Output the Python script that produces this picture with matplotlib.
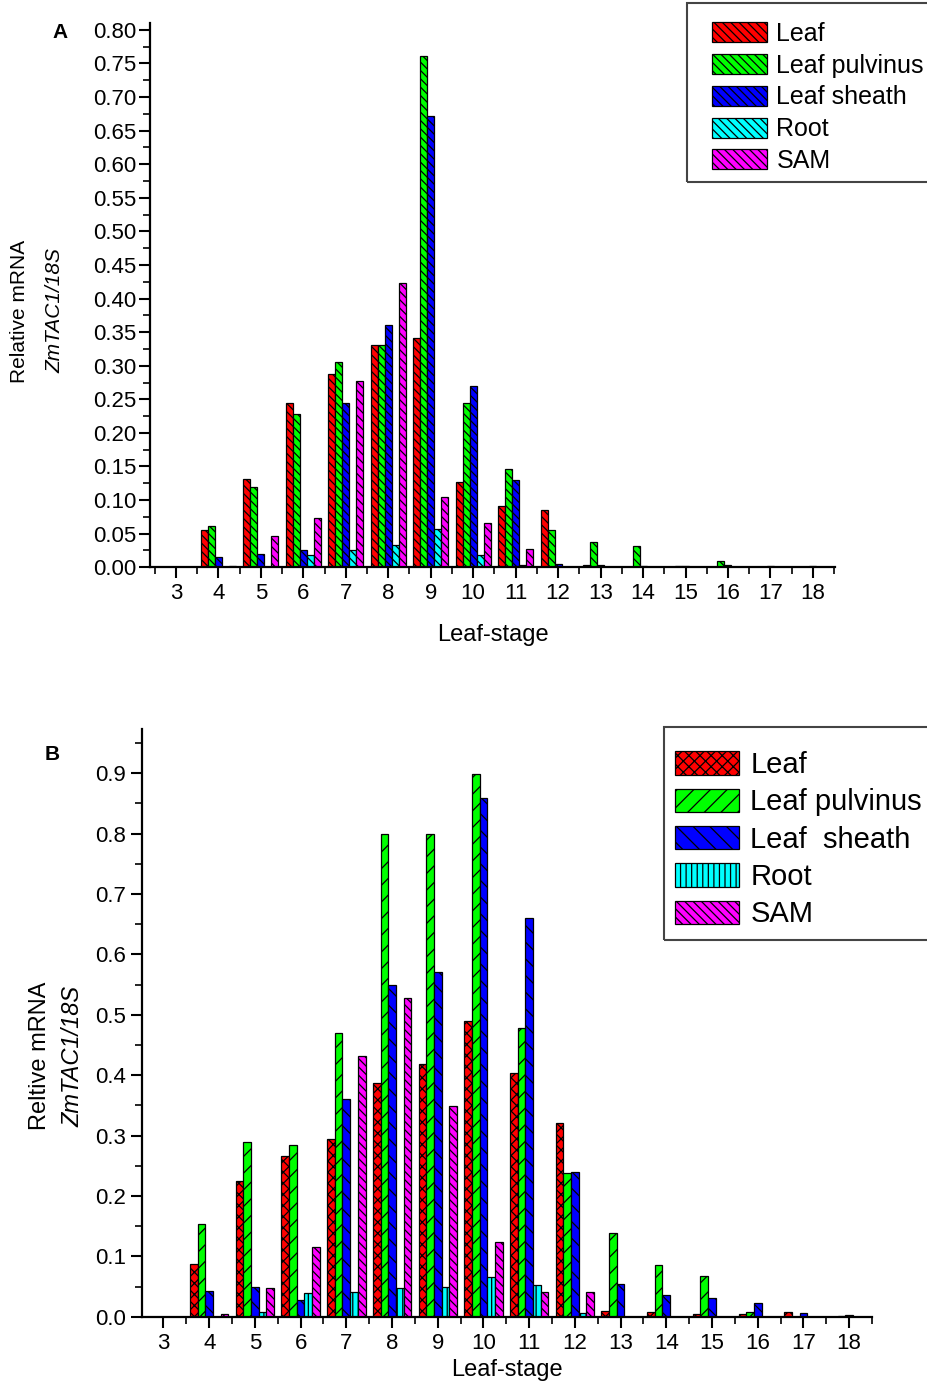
import numpy as np
import matplotlib
matplotlib.use("Agg")
import matplotlib.pyplot as plt
from matplotlib.patches import Rectangle
from matplotlib.ticker import MultipleLocator, FormatStrFormatter

plt.rcParams["font.family"] = ["Liberation Sans", "DejaVu Sans"]
plt.rcParams["hatch.linewidth"] = 0.9

stages = list(range(3, 19))
tissues = ["Leaf", "Leaf pulvinus", "Leaf sheath", "Root", "SAM"]
colors = ["#ff0000", "#00ff00", "#0000ff", "#00ffff", "#ff00ff"]

# panel A: relative mRNA per leaf stage (3..18)
a_leaf = [0, 0.055, 0.132, 0.244, 0.288, 0.331, 0.341, 0.127, 0.091, 0.086, 0.003, 0.001, 0.001, 0.001, 0, 0]
a_pulvinus = [0, 0.062, 0.120, 0.228, 0.306, 0.331, 0.761, 0.245, 0.147, 0.055, 0.038, 0.032, 0.002, 0.009, 0.001, 0.001]
a_sheath = [0, 0.016, 0.020, 0.025, 0.244, 0.361, 0.672, 0.270, 0.130, 0.005, 0.003, 0.002, 0.002, 0.003, 0.002, 0.002]
a_root = [0, 0.000, 0.001, 0.018, 0.025, 0.033, 0.057, 0.019, 0.003, 0, 0, 0, 0, 0, 0, 0]
a_sam = [0, 0.002, 0.046, 0.073, 0.277, 0.423, 0.104, 0.066, 0.027, 0, 0, 0, 0, 0, 0, 0]

# panel B
b_leaf = [0, 0.088, 0.225, 0.266, 0.294, 0.387, 0.419, 0.490, 0.403, 0.320, 0.009, 0.007, 0.004, 0.004, 0.007, 0]
b_pulvinus = [0, 0.153, 0.290, 0.285, 0.469, 0.800, 0.800, 0.899, 0.478, 0.238, 0.138, 0.085, 0.067, 0.007, 0, 0.001]
b_sheath = [0, 0.043, 0.050, 0.028, 0.360, 0.549, 0.571, 0.859, 0.660, 0.240, 0.055, 0.036, 0.031, 0.022, 0.006, 0.003]
b_root = [0, 0.000, 0.007, 0.040, 0.041, 0.048, 0.050, 0.065, 0.052, 0.006, 0, 0, 0, 0, 0, 0]
b_sam = [0, 0.004, 0.047, 0.115, 0.431, 0.527, 0.349, 0.124, 0.041, 0.041, 0, 0, 0, 0, 0, 0]

a_series = [a_leaf, a_pulvinus, a_sheath, a_root, a_sam]
b_series = [b_leaf, b_pulvinus, b_sheath, b_root, b_sam]
b_labels = ["Leaf", "Leaf pulvinus", "Leaf  sheath", "Root", "SAM"]
a_hatches = ["\\\\\\\\"] * 5
b_hatches = ["xxx", "//", "\\\\", "|||", "\\\\\\\\"]

W, H = 928, 1385


def draw_panel(ax, series, hatches, width):
    x = np.array(stages, dtype=float)
    for i, vals in enumerate(series):
        ax.bar(x + (i - 2) * width, vals, width, color=colors[i], edgecolor="black",
               linewidth=0.9, hatch=hatches[i])
    for s in ["top", "right"]:
        ax.spines[s].set_visible(False)
    for s in ["left", "bottom"]:
        ax.spines[s].set_linewidth(1.6)
    ax.xaxis.set_major_locator(MultipleLocator(1))
    ax.xaxis.set_minor_locator(MultipleLocator(0.5))
    ax.tick_params(which="major", direction="out", length=8, width=1.5)
    ax.tick_params(which="minor", direction="out", length=5, width=1.2)


def boxed_legend(ax, labels, x0, y_top, fontsize, spacing, box):
    # legend text/handles without frame, plus a plain frame drawn in pixels
    leg = ax.legend(labels, loc="upper left", bbox_to_anchor=(x0 / W, 1 - y_top / H),
                    bbox_transform=fig.transFigure, fontsize=fontsize, frameon=False,
                    handlelength=2.2, handleheight=0.85, handletextpad=0.38,
                    labelspacing=spacing, borderpad=0, borderaxespad=0)
    bx0, by0, bx1, by1 = box
    fig.patches.append(Rectangle((bx0 / W, 1 - by1 / H), (bx1 - bx0) / W, (by1 - by0) / H,
                                 transform=fig.transFigure, fill=False,
                                 edgecolor="#444444", linewidth=1.5))
    return leg


fig = plt.figure(figsize=(W / 100, H / 100), dpi=100)

# ---- panel A
axA = fig.add_axes([150 / W, 0.5904, 685 / W, 0.393])
draw_panel(axA, a_series, a_hatches, 0.165)
axA.set_xlim(2.39, 18.52)
axA.set_ylim(0, 0.81)
axA.yaxis.set_major_locator(MultipleLocator(0.05))
axA.yaxis.set_minor_locator(MultipleLocator(0.025))
axA.yaxis.set_major_formatter(FormatStrFormatter("%.2f"))
axA.tick_params(axis="y", labelsize=16, pad=2)
axA.tick_params(axis="x", labelsize=16)
axA.set_xlabel("Leaf-stage", fontsize=17, labelpad=14)
boxed_legend(axA, tissues, 712, 22, 18, 0.31, (687, 3, 940, 182))
fig.text(20 / W, 1 - 311 / H, "Relative mRNA", rotation=90, fontsize=15,
         ha="center", va="center")
fig.text(55 / W, 1 - 311 / H, "ZmTAC1/18S", rotation=90, fontsize=15,
         style="italic", ha="center", va="center")
fig.text(60 / W, 1 - 33 / H, "A", fontsize=15, fontweight="bold", ha="center", va="center")

# ---- panel B
axB = fig.add_axes([142 / W, 0.0493, 730 / W, 0.4243])
draw_panel(axB, b_series, b_hatches, 0.168)
axB.set_xlim(2.53, 18.5)
axB.set_ylim(0, 0.973)
axB.yaxis.set_major_locator(MultipleLocator(0.1))
axB.yaxis.set_minor_locator(MultipleLocator(0.05))
axB.yaxis.set_major_formatter(FormatStrFormatter("%.1f"))
axB.tick_params(axis="y", labelsize=16)
axB.tick_params(axis="x", labelsize=16)
axB.set_xlabel("Leaf-stage", fontsize=17, labelpad=4)
boxed_legend(axB, b_labels, 675, 751, 21, 0.32, (664, 727, 940, 940))
fig.text(40 / W, 1 - 1056 / H, "Reltive mRNA", rotation=90, fontsize=17,
         ha="center", va="center")
fig.text(73 / W, 1 - 1056 / H, "ZmTAC1/18S", rotation=90, fontsize=17,
         style="italic", ha="center", va="center")
fig.text(52 / W, 1 - 755 / H, "B", fontsize=15, fontweight="bold", ha="center", va="center")

fig.savefig("out.png", dpi=100)
